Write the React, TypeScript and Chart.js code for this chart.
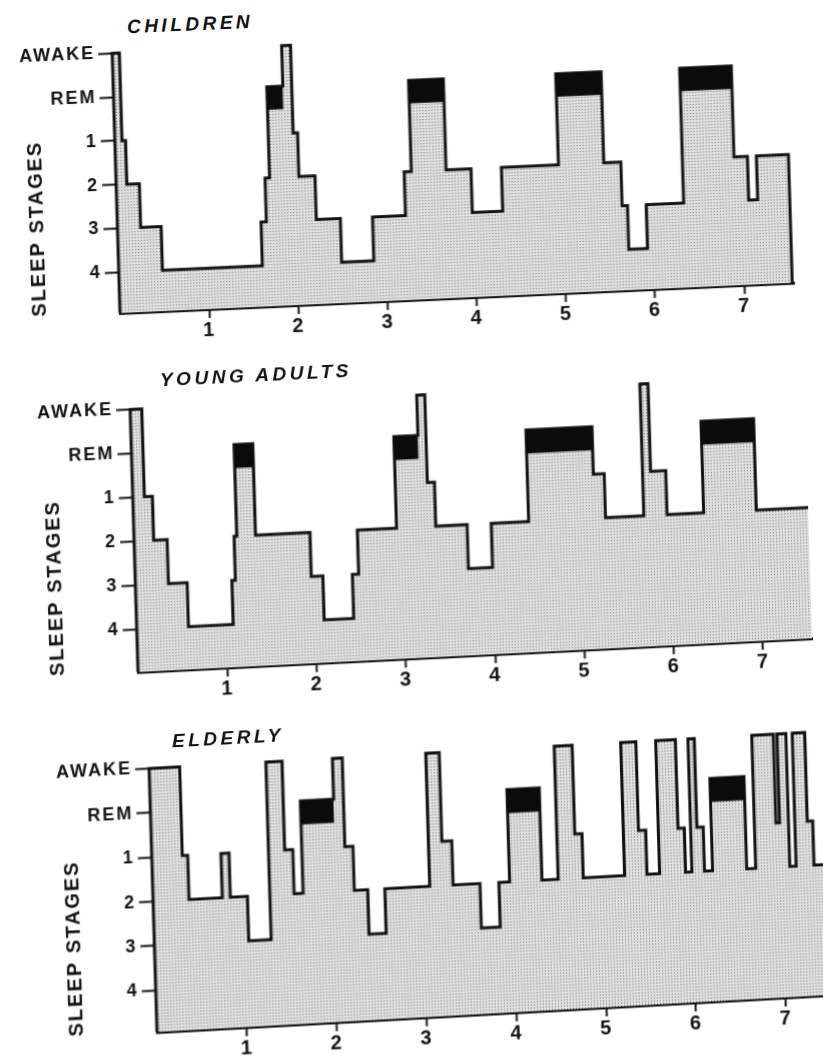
import React, { useEffect, useRef } from 'react';
import { Chart, registerables } from 'chart.js';

Chart.register(...registerables);

// ---------- data ----------
const STAGE_TICK_LABELS = ['4', '3', '2', '1', 'REM', 'AWAKE']; // y ticks at 0..5
const HOUR_TICKS = [1, 2, 3, 4, 5, 6, 7];
const STAGE_LEVEL: Record<string, number> = { S4: 0, S3: 1, S2: 2, S1: 3, REM: 4.08, W: 5 };
const REM_BLOCK_DEPTH = 0.53;

const childrenTimes = [0, 0.08, 0.12, 0.26, 0.49, 1.61, 1.67, 1.72, 1.9, 2.0, 2.05, 2.23, 2.5, 2.86, 3.23, 3.31, 3.7, 3.98, 4.32, 4.96, 5.47, 5.66, 5.72, 5.93, 6.35, 6.93, 7.08, 7.18];
const childrenStages = ['W', 'S1', 'S2', 'S3', 'S4', 'S3', 'S2', 'REM', 'W', 'S1', 'S2', 'S3', 'S4', 'S3', 'S2', 'REM', 'S2', 'S3', 'S2', 'REM', 'S2', 'S3', 'S4', 'S3', 'REM', 'S2', 'S3', 'S2'];
const childrenEnd = 7.54;

const youngTimes = [0, 0.13, 0.22, 0.37, 0.58, 1.08, 1.12, 1.15, 1.36, 1.97, 2.1, 2.43, 2.5, 2.94, 3.21, 3.3, 3.38, 3.73, 4.0, 4.42, 5.16, 5.28, 5.71, 5.8, 5.97, 6.38, 6.97];
const youngStages = ['W', 'S1', 'S2', 'S3', 'S4', 'S3', 'S2', 'REM', 'S2', 'S3', 'S4', 'S3', 'S2', 'REM', 'W', 'S1', 'S2', 'S3', 'S2', 'REM', 'S1', 'S2', 'W', 'S1', 'S2', 'REM', 'S2'];
const youngEnd = 7.55;

const elderlyTimes = [0, 0.34, 0.4, 0.77, 0.86, 1.05, 1.3, 1.48, 1.57, 1.67, 2.04, 2.15, 2.24, 2.39, 2.58, 3.08, 3.23, 3.34, 3.64, 3.85, 3.97, 4.33, 4.51, 4.71, 4.79, 5.25, 5.42, 5.5, 5.64, 5.86, 5.93, 6.0, 6.07, 6.14, 6.23, 6.61, 6.71, 6.95, 6.99, 7.09, 7.16, 7.3, 7.36];
const elderlyStages = ['W', 'S1', 'S2', 'S1', 'S2', 'S3', 'W', 'S1', 'S2', 'REM', 'W', 'S1', 'S2', 'S3', 'S2', 'W', 'S1', 'S2', 'S3', 'S2', 'REM', 'S2', 'W', 'S1', 'S2', 'W', 'S1', 'S2', 'W', 'S1', 'S2', 'W', 'S1', 'S2', 'REM', 'S2', 'W', 'S1', 'W', 'S2', 'W', 'S1', 'S2'];
const elderlyEnd = 7.65;

// ---------- layout ----------
const FONT = "'Liberation Sans', Arial, Helvetica, sans-serif";
const INK = '#111111';
const Y_MAX = 5.15;
const AX = 104; // y-axis box width
const AXH = 40; // x-axis box height
const PAD_T = 12;
const PAD_R = 6;

type PanelCfg = {
  title: string; times: number[]; stages: string[]; end: number; closeRight: boolean;
  ox: number; oy: number; pxHour: number; pxUnit: number; yMin: number; xMax: number;
  slope: number; slant: number; titleX: number; titleY: number;
};

const PANELS: PanelCfg[] = [
  { title: 'CHILDREN', times: childrenTimes, stages: childrenStages, end: childrenEnd, closeRight: true,
    ox: 120, oy: 313, pxHour: 89.2, pxUnit: 44, yMin: -0.93, xMax: 7.56, slope: 0.045, slant: 0.03, titleX: 127, titleY: 27 },
  { title: 'YOUNG ADULTS', times: youngTimes, stages: youngStages, end: youngEnd, closeRight: false,
    ox: 138, oy: 672, pxHour: 89.3, pxUnit: 44.2, yMin: -0.97, xMax: 7.55, slope: 0.05, slant: 0.03, titleX: 160, titleY: 380 },
  { title: 'ELDERLY', times: elderlyTimes, stages: elderlyStages, end: elderlyEnd, closeRight: false,
    ox: 157, oy: 1032, pxHour: 89.8, pxUnit: 44.6, yMin: -0.94, xMax: 7.65, slope: 0.055, slant: 0.03, titleX: 172, titleY: 742 },
];

const letterSpacingPlugin = {
  id: 'letterSpacing',
  beforeDraw(chart: any) {
    try { chart.ctx.letterSpacing = '2px'; } catch (e) { /* ignore */ }
  },
};

function makeDots(): any {
  const c = document.createElement('canvas');
  c.width = 3; c.height = 3;
  const g = c.getContext('2d')!;
  g.fillStyle = '#e0e0e0';
  g.fillRect(0, 0, 3, 3);
  g.fillStyle = '#727272';
  g.fillRect(1, 1, 1, 1);
  return g.createPattern(c, 'repeat') || '#d2d2d2';
}

function Panel({ p }: { p: PanelCfg }) {
  const ref = useRef<HTMLCanvasElement>(null);
  const plotW = Math.round(p.xMax * p.pxHour);
  const plotH = Math.round((Y_MAX - p.yMin) * p.pxUnit);
  const W = AX + plotW + PAD_R;
  const H = PAD_T + plotH + AXH;
  const canvasLeft = p.ox - AX;
  const canvasTop = p.oy - PAD_T - plotH;

  // inverse of the panel transform to place the title
  const det = 1 + p.slope * p.slant;
  const rx = p.titleX - p.ox;
  const ry = p.titleY - p.oy;
  const ux = p.ox + (rx - p.slant * ry) / det;
  const uy = p.oy + (ry + p.slope * rx) / det;

  useEffect(() => {
    if (!ref.current) return;
    const pts: { x: number; y: number }[] = [{ x: 0, y: p.yMin }];
    p.times.forEach((t, i) => pts.push({ x: t, y: STAGE_LEVEL[p.stages[i]] }));
    pts.push({ x: p.end, y: STAGE_LEVEL[p.stages[p.stages.length - 1]] });
    if (p.closeRight) pts.push({ x: p.end, y: p.yMin });

    const datasets: any[] = [
      {
        data: pts,
        stepped: true,
        borderColor: INK,
        borderWidth: 3,
        borderJoinStyle: 'miter',
        backgroundColor: makeDots(),
        fill: 'start',
        pointRadius: 0,
        tension: 0,
        clip: false,
        order: 2,
      },
    ];
    p.stages.forEach((s, i) => {
      if (s !== 'REM') return;
      const stop = i + 1 < p.times.length ? p.times[i + 1] : p.end;
      datasets.push({
        data: [{ x: p.times[i], y: STAGE_LEVEL.REM }, { x: stop, y: STAGE_LEVEL.REM }],
        borderWidth: 0,
        borderColor: INK,
        backgroundColor: '#0b0b0b',
        fill: { value: STAGE_LEVEL.REM - REM_BLOCK_DEPTH },
        pointRadius: 0,
        clip: false,
        order: 1,
      });
    });

    const chart = new Chart(ref.current, {
      type: 'line',
      data: { datasets },
      options: {
        responsive: false,
        animation: false,
        devicePixelRatio: 1,
        events: [],
        layout: { padding: { top: PAD_T, right: PAD_R, left: 0, bottom: 0 } },
        plugins: { legend: { display: false }, tooltip: { enabled: false }, title: { display: false } },
        scales: {
          x: {
            type: 'linear',
            min: 0,
            max: p.xMax,
            afterBuildTicks: (s: any) => { s.ticks = HOUR_TICKS.map((v) => ({ value: v })); },
            afterFit: (s: any) => { s.height = AXH; },
            grid: { display: true, drawOnChartArea: false, drawTicks: true, tickLength: 9, tickWidth: 2, tickColor: INK, color: INK },
            border: { display: true, color: INK, width: 3 },
            ticks: {
              font: { family: FONT, size: 20, weight: 'bold' },
              color: INK,
              padding: 0,
              maxRotation: 0,
              autoSkip: false,
              callback: (v: any) => String(v),
            },
          },
          y: {
            type: 'linear',
            min: p.yMin,
            max: Y_MAX,
            afterBuildTicks: (s: any) => { s.ticks = STAGE_TICK_LABELS.map((_, i) => ({ value: i })); },
            afterFit: (s: any) => { s.width = AX; },
            grid: { display: true, drawOnChartArea: false, drawTicks: true, tickLength: 14, tickWidth: 2, tickColor: INK, color: INK },
            border: { display: false },
            ticks: {
              font: { family: FONT, size: 18, weight: 'bold' },
              color: INK,
              padding: 3,
              autoSkip: false,
              callback: (v: any) => STAGE_TICK_LABELS[Math.round(Number(v))] ?? '',
            },
            title: {
              display: true,
              text: 'SLEEP STAGES',
              align: 'start',
              color: INK,
              font: { family: FONT, size: 20, weight: 'bold' },
              padding: { top: 12, bottom: 0 },
            },
          },
        },
      } as any,
      plugins: [letterSpacingPlugin],
    });
    return () => chart.destroy();
  }, []);

  return (
    <div
      style={{
        position: 'absolute',
        left: 0,
        top: 0,
        width: 823,
        height: 1060,
        transformOrigin: `${p.ox}px ${p.oy}px`,
        transform: `matrix(1, ${-p.slope}, ${p.slant}, 1, 0, 0)`,
        pointerEvents: 'none',
      }}
    >
      <div
        style={{
          position: 'absolute',
          left: ux,
          top: uy - 12,
          height: 24,
          lineHeight: '24px',
          fontFamily: FONT,
          fontStyle: 'italic',
          fontWeight: 'bold',
          fontSize: 19,
          letterSpacing: '3.5px',
          color: INK,
          whiteSpace: 'nowrap',
        }}
      >
        {p.title}
      </div>
      <canvas
        ref={ref}
        width={W}
        height={H}
        style={{ position: 'absolute', left: canvasLeft, top: canvasTop, width: W, height: H }}
      />
    </div>
  );
}

export default function App() {
  return (
    <div
      style={{
        position: 'fixed',
        left: 0,
        top: 0,
        width: 823,
        height: 1060,
        overflow: 'hidden',
        background: '#ffffff',
      }}
    >
      {PANELS.map((p) => (
        <Panel key={p.title} p={p} />
      ))}
    </div>
  );
}
